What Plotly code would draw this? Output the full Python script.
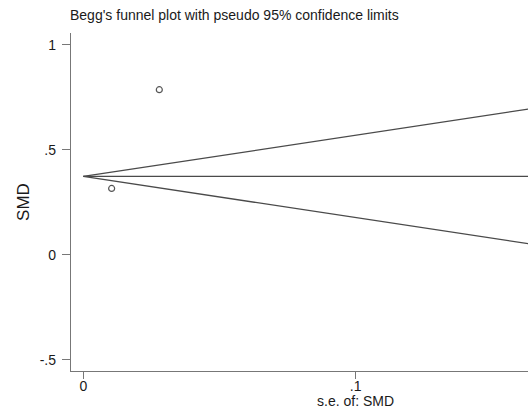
import plotly.graph_objects as go

# Study data (standardized mean difference and its standard error)
se_smd = [0.0104, 0.0279]
smd = [0.316, 0.786]

# Axis ticks
y_tickvals = [-0.5, 0, 0.5, 1]
y_ticktext = ["-.5", "0", ".5", "1"]
x_tickvals = [0, 0.1]
x_ticktext = ["0", ".1"]

# Fixed-effect pooled estimate
w = [1 / s ** 2 for s in se_smd]
pooled = sum(wi * yi for wi, yi in zip(w, smd)) / sum(w)
se_line = [0, 0.17]
upper = [pooled + 1.96 * s for s in se_line]
lower = [pooled - 1.96 * s for s in se_line]

FONT = "Liberation Sans, Arial, sans-serif"
LINE = "#4a4a4a"

fig = go.Figure()
fig.add_trace(go.Scatter(x=se_line, y=upper, mode="lines",
                         line=dict(color=LINE, width=1.3), showlegend=False))
fig.add_trace(go.Scatter(x=se_line, y=lower, mode="lines",
                         line=dict(color=LINE, width=1.3), showlegend=False))
fig.add_trace(go.Scatter(x=se_line, y=[pooled, pooled], mode="lines",
                         line=dict(color=LINE, width=1.3), showlegend=False))
fig.add_trace(go.Scatter(x=se_smd, y=smd, mode="markers",
                         marker=dict(symbol="circle-open", size=6,
                                     color="#555555", line=dict(width=1.2)),
                         showlegend=False))

fig.update_layout(
    width=528, height=412,
    margin=dict(l=71, r=0, t=33, b=41),
    paper_bgcolor="white", plot_bgcolor="white",
    font=dict(family=FONT, size=14, color="#1a1a1a"),
    title=dict(text="Begg's funnel plot with pseudo 95% confidence limits",
               x=70 / 528, xref="container", xanchor="left",
               y=1 - 15 / 412, yref="container", yanchor="middle",
               font=dict(family=FONT, size=14, color="#1a1a1a")),
    xaxis=dict(range=[-0.00452, 0.16325], tickvals=x_tickvals, ticktext=x_ticktext,
               showgrid=False, zeroline=False, showline=True, linecolor="#777777",
               linewidth=1.3, ticks="outside", ticklen=7, tickcolor="#777777",
               tickwidth=1.3, ticklabelstandoff=-5),
    yaxis=dict(range=[-0.553, 1.056], tickvals=y_tickvals, ticktext=y_ticktext,
               showgrid=False, zeroline=False, showline=True, linecolor="#777777",
               linewidth=1.3, ticks="outside", ticklen=8, tickcolor="#777777",
               tickwidth=1.3, ticklabelstandoff=3,
               title=dict(text="SMD", standoff=5)),
)
fig.add_annotation(text="s.e. of: SMD", x=0.1, xref="x",
                   y=-(401 - 371) / (371 - 33), yref="paper",
                   showarrow=False, yanchor="middle")

fig.write_html("out.html")
